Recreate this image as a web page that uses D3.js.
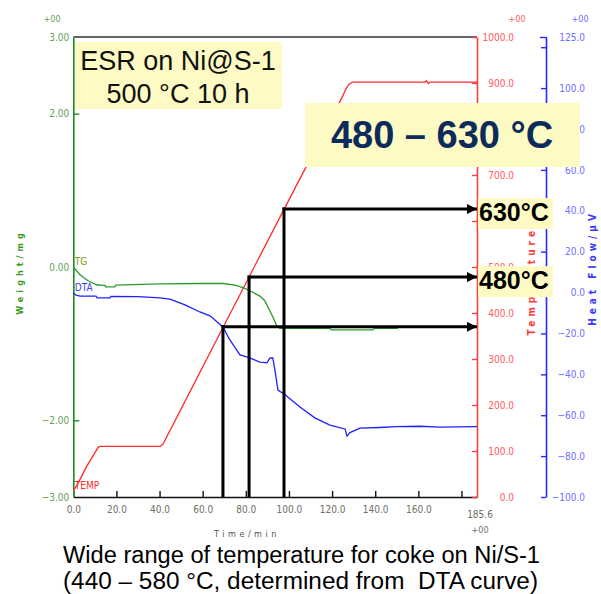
<!DOCTYPE html>
<html><head><meta charset="utf-8">
<script src="https://cdn.jsdelivr.net/npm/d3@7/dist/d3.min.js"></script>
<style>body{margin:0;background:#fff}svg{display:block}text{white-space:pre}</style>
</head><body><svg id="c" width="601" height="594"></svg>
<script>
// ---------- data ----------
const timeTicks = [0, 20, 40, 60, 80, 100, 120, 140, 160, 180];
const timeEndLabel = "185.6";
const timeDomain = [0, 187.2];
const weightTicks = [3, 2, 0, -2, -3];
const tempTicks = [0, 100, 200, 300, 400, 500, 600, 700, 800, 900, 1000];
const tempLabelled = [0, 100, 200, 300, 400, 500, 700, 900, 1000]; // 600 and 800 are covered by boxes in the reference
const dtaTicks = [-100, -80, -60, -40, -20, 0, 20, 40, 60, 80, 100, 120, 125];
const dtaLabelled = [-100, -80, -60, -40, -20, 0, 20, 40, 60, 80, 100, 125];

const tempTime = [0, 2, 6, 11.5, 12.5, 40.2, 41.5, 70, 100, 125, 126.5, 128, 129.5, 163, 163.8, 164.6, 165.4, 187.2];
const tempVal  = [13, 28, 65, 108, 110, 110, 114, 374, 646, 872, 888, 898, 902, 902, 905, 899, 902, 902];

const tgTime = [0, 3.1, 6.8, 11, 14.7, 15, 19.3, 19.8, 40, 58.7, 69.4, 75, 78.7, 81.9, 86.5, 88.8, 90.2, 92.5, 94.4, 95.8, 106, 119, 119.5, 139, 139.5, 150.5];
const tgVal  = [0, -0.10, -0.18, -0.235, -0.24, -0.26, -0.26, -0.235, -0.22, -0.215, -0.215, -0.235, -0.27, -0.31, -0.38, -0.44, -0.52, -0.65, -0.77, -0.80, -0.80, -0.80, -0.82, -0.82, -0.80, -0.80];

const dtaTime = [0, 1, 3.1, 10.5, 11, 17, 17.5, 30, 40.2, 44.8, 51.8, 58.7, 63.4, 69.4, 72.6, 77.3, 81.9, 86.5, 89.8, 91.2, 92.5, 93.5, 94.9, 98.2, 105.1, 112, 119, 126, 126.9, 128.3, 132.9, 142.2, 150, 160.7, 170, 187.2];
const dtaVal  = [0, -1.2, -1.7, -1.7, -2.6, -2.6, -1.9, -2.0, -2.6, -3.2, -6.0, -9.5, -11.4, -16.8, -23.2, -30.5, -32.0, -34.0, -34.4, -32.0, -32.0, -37.9, -47.7, -50.0, -56.0, -61.3, -64.8, -66.7, -70.2, -68.5, -66.3, -66.0, -65.6, -65.4, -65.8, -65.6];

const markTime = [69.4, 81.5, 97.7];
const markTemp = [370, 478, 626];
const markLabels = ["", "480°C", "630°C"];

// ---------- layout ----------
const svg = d3.select("#c");
const L = 73.3, R = 477, T = 37, B = 497, blueX = 546;
const x = d3.scaleLinear().domain(timeDomain).range([L, R]);
const yW = d3.scaleLinear().domain([-3, 3]).range([B, T]);
const yT = d3.scaleLinear().domain([0, 1000]).range([B, T]);
const yD = d3.scaleLinear().domain([-100, 125]).range([B, T]);
const smallFont = "'Liberation Sans Narrow','DejaVu Sans Condensed',sans-serif";
const mainFont = "'Liberation Sans',Arial,sans-serif";

// frame top
svg.append("line").attr("x1", L).attr("x2", R).attr("y1", T).attr("y2", T)
  .attr("stroke", "#333").attr("stroke-width", 1.5);

function styleAxis(g, col, labCol) {
  g.attr("font-family", smallFont).attr("font-size", 10);
  g.select(".domain").attr("stroke", col).attr("stroke-width", 1.6);
  g.selectAll(".tick line").attr("stroke", col).attr("stroke-width", 1.4);
  g.selectAll(".tick text").attr("fill", labCol);
}

// x axis
const gx = svg.append("g").attr("transform", `translate(0,${B})`)
  .call(d3.axisBottom(x).tickValues(timeTicks).tickSize(-6).tickPadding(9).tickSizeOuter(0)
    .tickFormat(d => d === 180 ? "" : d3.format(".1f")(d)));
styleAxis(gx, "#111", "#6e7068");
svg.append("text").attr("x", R + 3).attr("y", B + 21).attr("text-anchor", "middle")
  .attr("font-family", smallFont).attr("font-size", 10).attr("fill", "#6e7068").text(timeEndLabel);
svg.append("text").attr("x", R + 3).attr("y", B + 36).attr("text-anchor", "middle")
  .attr("font-family", smallFont).attr("font-size", 9).attr("fill", "#6e7068").text("+00");
svg.append("text").attr("x", 247).attr("y", 537).attr("text-anchor", "middle")
  .attr("font-family", smallFont).attr("font-size", 9).attr("letter-spacing", 3.5).attr("fill", "#555").text("Time/min");

// left weight axis
const gl = svg.append("g").attr("transform", `translate(${L},0)`)
  .call(d3.axisLeft(yW).tickValues(weightTicks).tickSize(-6).tickPadding(4).tickSizeOuter(0)
    .tickFormat(d3.format(".2f")));
styleAxis(gl, "#1f8a1f", "#5f9f5a");
gl.selectAll(".tick line").filter(d => d === 3 || d === 0 || d === -3).remove();
svg.append("text").attr("x", 52).attr("y", 22).attr("text-anchor", "middle")
  .attr("font-family", smallFont).attr("font-size", 9).attr("fill", "#5f9f5a").text("+00");
svg.append("text").attr("transform", "translate(23,272) rotate(-90)").attr("text-anchor", "middle")
  .attr("font-family", smallFont).attr("font-size", 9).attr("font-weight", "bold").attr("letter-spacing", 4)
  .attr("fill", "#3a9a1a").text("Weight/mg");

// red temperature axis
const gr = svg.append("g").attr("transform", `translate(${R},0)`)
  .call(d3.axisRight(yT).tickValues(tempTicks).tickSize(-5).tickPadding(37).tickSizeOuter(0)
    .tickFormat(d => tempLabelled.includes(d) ? d3.format(".1f")(d) : ""));
styleAxis(gr, "#ff4040", "#ff5a5a");
gr.selectAll(".tick text").attr("text-anchor", "end");
svg.append("text").attr("x", 517).attr("y", 22).attr("text-anchor", "middle")
  .attr("font-family", smallFont).attr("font-size", 9).attr("fill", "#ff5a5a").text("+00");
svg.append("text").attr("transform", "translate(535,268) rotate(-90)").attr("text-anchor", "middle")
  .attr("font-family", smallFont).attr("font-size", 10).attr("font-weight", "bold").attr("letter-spacing", 4)
  .attr("fill", "#ff3a3a").text("Temperature/°C");

// blue DTA axis
const gb = svg.append("g").attr("transform", `translate(${blueX},0)`)
  .call(d3.axisRight(yD).tickValues(dtaTicks).tickSize(-5).tickPadding(39).tickSizeOuter(0)
    .tickFormat(d => dtaLabelled.includes(d) ? d3.format(".1f")(d) : ""));
styleAxis(gb, "#2a2aff", "#7070ff");
gb.selectAll(".tick text").attr("text-anchor", "end");
gb.selectAll(".tick line").filter(d => d === 125).attr("x1", -6).attr("x2", 1);
svg.append("text").attr("x", 580).attr("y", 22).attr("text-anchor", "middle")
  .attr("font-family", smallFont).attr("font-size", 9).attr("fill", "#7070ff").text("+00");
svg.append("text").attr("transform", "translate(596,268) rotate(-90)").attr("text-anchor", "middle")
  .attr("font-family", smallFont).attr("font-size", 10).attr("font-weight", "bold").attr("letter-spacing", 4)
  .attr("fill", "#3a3aff").text("Heat Flow/μV");

// curves
const mk = (ts, vs, ys) => d3.line().x((d, i) => x(ts[i])).y((d, i) => ys(vs[i]))(ts);
svg.append("path").attr("d", mk(tempTime, tempVal, yT)).attr("fill", "none").attr("stroke", "#ff2a2a").attr("stroke-width", 1.3);
svg.append("path").attr("d", mk(tgTime, tgVal, yW)).attr("fill", "none").attr("stroke", "#2e9a2e").attr("stroke-width", 1.3);
svg.append("path").attr("d", mk(dtaTime, dtaVal, yD)).attr("fill", "none").attr("stroke", "#2020ff").attr("stroke-width", 1.3);

// curve labels
const lab = (yy, txt, col) => svg.append("text").attr("x", L + 1.5).attr("y", yy)
  .attr("font-family", smallFont).attr("font-size", 10).attr("fill", col).text(txt);
lab(yW(0) - 2, "TG", "#8a9a10");
lab(yD(0) - 2, "DTA", "#3a3aff");
lab(yT(0) - 8, "TEMP", "#ff2a2a");

// annotation lines
svg.append("defs").append("marker").attr("id", "ah").attr("viewBox", "0 0 10 10")
  .attr("refX", 10).attr("refY", 5).attr("markerWidth", 3.4).attr("markerHeight", 3.4)
  .attr("markerUnits", "strokeWidth").attr("orient", "auto")
  .append("path").attr("d", "M0,0L10,5L0,10Z").attr("fill", "#000");
markTime.forEach((t, i) => {
  const xx = x(t), yy = yT(markTemp[i]);
  svg.append("line").attr("x1", xx).attr("x2", xx).attr("y1", yy - 1.5).attr("y2", B)
    .attr("stroke", "#000").attr("stroke-width", 3);
  svg.append("line").attr("x1", xx - 1.5).attr("x2", R).attr("y1", yy).attr("y2", yy)
    .attr("stroke", "#000").attr("stroke-width", 3).attr("marker-end", "url(#ah)");
  if (markLabels[i]) {
    svg.append("rect").attr("x", 478).attr("y", yy - 11).attr("width", 75).attr("height", 31).attr("fill", "#fdfbc3");
    svg.append("text").attr("x", 479).attr("y", yy + 12).attr("font-family", mainFont)
      .attr("font-size", 25).attr("font-weight", "bold").attr("fill", "#000").text(markLabels[i]);
  }
});

// title boxes
svg.append("rect").attr("x", 75).attr("y", 42).attr("width", 207).attr("height", 67).attr("fill", "#fdfbc3");
svg.append("text").attr("x", 178).attr("y", 70).attr("text-anchor", "middle").attr("font-family", mainFont)
  .attr("font-size", 27).attr("fill", "#111").text("ESR on Ni@S-1");
svg.append("text").attr("x", 178).attr("y", 103).attr("text-anchor", "middle").attr("font-family", mainFont)
  .attr("font-size", 27).attr("fill", "#111").text("500 °C 10 h");

svg.append("rect").attr("x", 305).attr("y", 103).attr("width", 275).attr("height", 64).attr("fill", "#fdfbc3");
svg.append("text").attr("x", 442).attr("y", 148).attr("text-anchor", "middle").attr("font-family", mainFont)
  .attr("font-size", 38).attr("font-weight", "bold").attr("fill", "#0c2a5c").text("480 – 630 °C");

// caption
svg.append("text").attr("x", 63).attr("y", 563).attr("font-family", mainFont)
  .attr("font-size", 23.5).attr("fill", "#000").attr("textLength", 477).attr("lengthAdjust", "spacingAndGlyphs")
  .text("Wide range of temperature for coke on Ni/S-1");
svg.append("text").attr("x", 63).attr("y", 589).attr("font-family", mainFont)
  .attr("font-size", 23.5).attr("fill", "#000").attr("textLength", 475).attr("lengthAdjust", "spacingAndGlyphs")
  .text("(440 – 580 °C, determined from  DTA curve)");
</script></body></html>
